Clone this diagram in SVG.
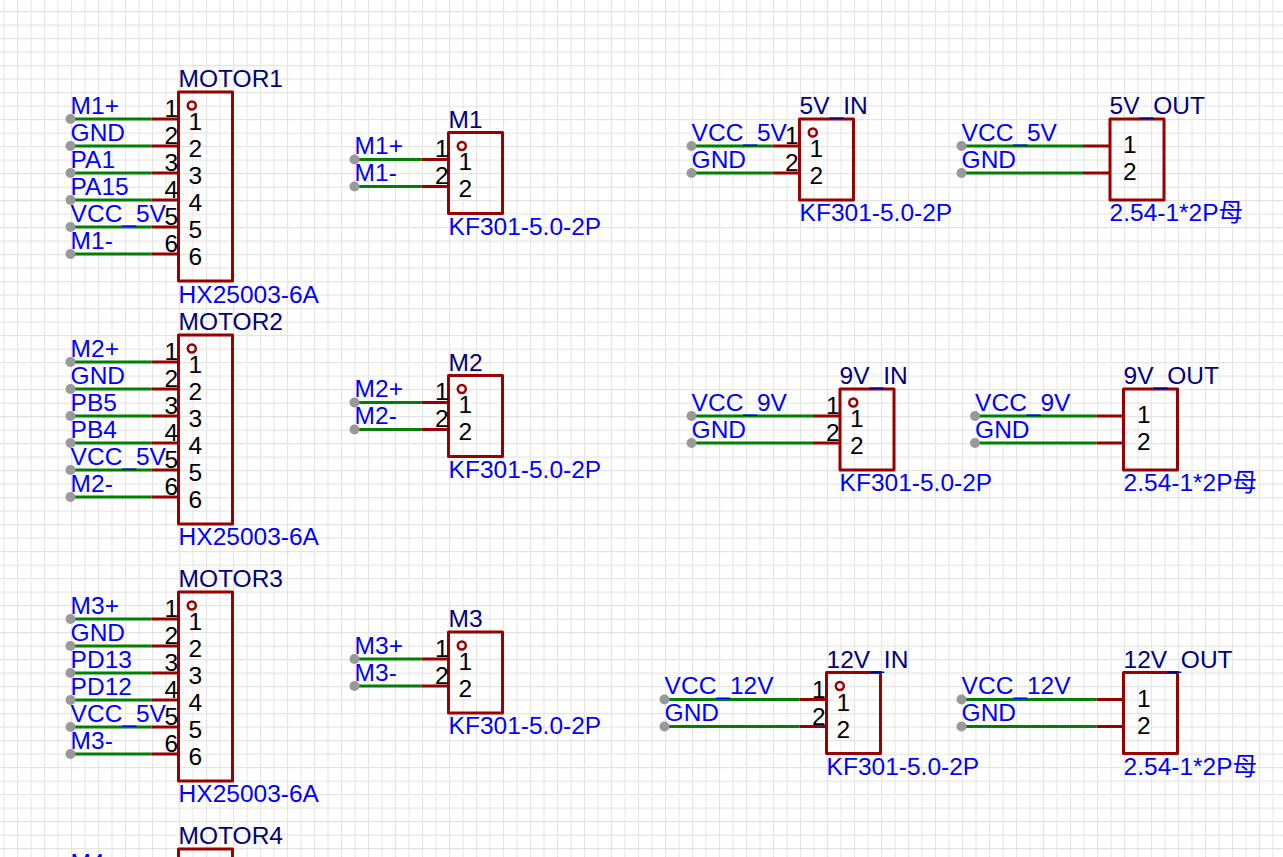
<svg xmlns="http://www.w3.org/2000/svg" width="1283" height="857" viewBox="0 0 1283 857">
<style>
text{font-family:"Liberation Sans","Noto Sans CJK SC",sans-serif;font-size:24.5px}
.n,.v{transform:translate(-.4px,-.4px)}
.n{fill:#000080}.v{fill:#0000ff}.p{fill:#000}
.b{fill:none;stroke:#990000;stroke-width:3;stroke-linejoin:round}
.c{fill:none;stroke:#990000;stroke-width:2.5}
.r{stroke:#990000;stroke-width:3}
.w{stroke:#008000;stroke-width:3}
.d{fill:#999}
</style>
<defs>
<pattern id="g" width="13.5" height="13.5" x="3.5" y="11" patternUnits="userSpaceOnUse">
<path d="M0 0V13.5M0 0H13.5" stroke="#e4e4e4" stroke-width="2.2" fill="none"/>
</pattern>
</defs>
<rect width="1283" height="857" fill="#fff"/>
<rect width="1283" height="857" fill="url(#g)"/>
<g id="connectors">
<path class="w" d="M70.5 119H151.5M70.5 146H151.5M70.5 173H151.5M70.5 200H151.5M70.5 227H151.5M70.5 254H151.5"/>
<path class="w" d="M70.5 362H151.5M70.5 389H151.5M70.5 416H151.5M70.5 443H151.5M70.5 470H151.5M70.5 497H151.5"/>
<path class="w" d="M70.5 619H151.5M70.5 646H151.5M70.5 673H151.5M70.5 700H151.5M70.5 727H151.5M70.5 754H151.5"/>
<path class="w" d="M354.5 159.500H421.500M354.500 186.500H421.500M354.500 402.500H421.500M354.500 429.500H421.500M354.500 659H421.500M354.500 686H421.500"/>
<path class="w" d="M691.500 146H772.500M691.500 173H772.500M961.500 146H1083M961.500 173H1083"/>
<path class="w" d="M691.500 416H813M691.500 443H813M975 416H1096.500M975 443H1096.500"/>
<path class="w" d="M664.500 699.500H799.500M664.500 726.500H799.500M961.500 699.500H1096.500M961.500 726.500H1096.500"/>
<g class="d">
<circle cx="70.500" cy="119" r="5"/><circle cx="70.500" cy="146" r="5"/><circle cx="70.500" cy="173" r="5"/><circle cx="70.500" cy="200" r="5"/><circle cx="70.500" cy="227" r="5"/><circle cx="70.500" cy="254" r="5"/>
<circle cx="70.500" cy="362" r="5"/><circle cx="70.500" cy="389" r="5"/><circle cx="70.500" cy="416" r="5"/><circle cx="70.500" cy="443" r="5"/><circle cx="70.500" cy="470" r="5"/><circle cx="70.500" cy="497" r="5"/>
<circle cx="70.500" cy="619" r="5"/><circle cx="70.500" cy="646" r="5"/><circle cx="70.500" cy="673" r="5"/><circle cx="70.500" cy="700" r="5"/><circle cx="70.500" cy="727" r="5"/><circle cx="70.500" cy="754" r="5"/>
<circle cx="354.500" cy="159.500" r="5"/><circle cx="354.500" cy="186.500" r="5"/><circle cx="354.500" cy="402.500" r="5"/><circle cx="354.500" cy="429.500" r="5"/><circle cx="354.500" cy="659" r="5"/><circle cx="354.500" cy="686" r="5"/>
<circle cx="691.500" cy="146" r="5"/><circle cx="691.500" cy="173" r="5"/><circle cx="961.500" cy="146" r="5"/><circle cx="961.500" cy="173" r="5"/>
<circle cx="691.500" cy="416" r="5"/><circle cx="691.500" cy="443" r="5"/><circle cx="975" cy="416" r="5"/><circle cx="975" cy="443" r="5"/>
<circle cx="664.500" cy="699.500" r="5"/><circle cx="664.500" cy="726.500" r="5"/><circle cx="961.500" cy="699.500" r="5"/><circle cx="961.500" cy="726.500" r="5"/>
</g>
<g>
<text class="v" x="71" y="114">M1+</text><text class="v" x="71" y="141">GND</text><text class="v" x="71" y="168">PA1</text><text class="v" x="71" y="195">PA15</text><text class="v" x="71" y="222">VCC_5V</text><text class="v" x="71" y="249">M1-</text>
<text class="v" x="71" y="357">M2+</text><text class="v" x="71" y="384">GND</text><text class="v" x="71" y="411">PB5</text><text class="v" x="71" y="438">PB4</text><text class="v" x="71" y="465">VCC_5V</text><text class="v" x="71" y="492">M2-</text>
<text class="v" x="71" y="614">M3+</text><text class="v" x="71" y="641">GND</text><text class="v" x="71" y="668">PD13</text><text class="v" x="71" y="695">PD12</text><text class="v" x="71" y="722">VCC_5V</text><text class="v" x="71" y="749">M3-</text>
<text class="v" x="71" y="871">M4+</text>
<text class="v" x="355" y="154">M1+</text><text class="v" x="355" y="181">M1-</text><text class="v" x="355" y="397">M2+</text><text class="v" x="355" y="424">M2-</text><text class="v" x="355" y="654">M3+</text><text class="v" x="355" y="681">M3-</text>
<text class="v" x="692" y="141">VCC_5V</text><text class="v" x="692" y="168">GND</text><text class="v" x="962" y="141">VCC_5V</text><text class="v" x="962" y="168">GND</text>
<text class="v" x="692" y="411">VCC_9V</text><text class="v" x="692" y="438">GND</text><text class="v" x="975.500" y="411">VCC_9V</text><text class="v" x="975.500" y="438">GND</text>
<text class="v" x="665" y="694">VCC_12V</text><text class="v" x="665" y="721">GND</text><text class="v" x="962" y="694">VCC_12V</text><text class="v" x="962" y="721">GND</text>
</g>
</g>
<g id="MOTOR1">
<path class="r" d="M151.500 119H178.500M151.500 146H178.500M151.500 173H178.500M151.500 200H178.500M151.500 227H178.500M151.500 254H178.500"/>
<rect class="b" x="178.500" y="92" width="54" height="189"/><circle class="c" cx="191.800" cy="105.500" r="4"/>
<text class="n" x="179" y="87">MOTOR1</text><text class="v" x="179" y="303">HX25003-6A</text>
<g class="p"><text x="164.500" y="117">1</text><text x="164.500" y="144">2</text><text x="164.500" y="171">3</text><text x="164.500" y="198">4</text><text x="164.500" y="225">5</text><text x="164.500" y="252">6</text>
<text x="188.500" y="129.500">1</text><text x="188.500" y="156.500">2</text><text x="188.500" y="183.500">3</text><text x="188.500" y="210.500">4</text><text x="188.500" y="237.500">5</text><text x="188.500" y="264.500">6</text></g>
</g>
<g id="MOTOR2">
<path class="r" d="M151.500 362H178.500M151.500 389H178.500M151.500 416H178.500M151.500 443H178.500M151.500 470H178.500M151.500 497H178.500"/>
<rect class="b" x="178.500" y="335" width="54" height="189"/><circle class="c" cx="191.800" cy="348.500" r="4"/>
<text class="n" x="179" y="330">MOTOR2</text><text class="v" x="179" y="545">HX25003-6A</text>
<g class="p"><text x="164.500" y="360">1</text><text x="164.500" y="387">2</text><text x="164.500" y="414">3</text><text x="164.500" y="441">4</text><text x="164.500" y="468">5</text><text x="164.500" y="495">6</text>
<text x="188.500" y="372.500">1</text><text x="188.500" y="399.500">2</text><text x="188.500" y="426.500">3</text><text x="188.500" y="453.500">4</text><text x="188.500" y="480.500">5</text><text x="188.500" y="507.500">6</text></g>
</g>
<g id="MOTOR3">
<path class="r" d="M151.500 619H178.500M151.500 646H178.500M151.500 673H178.500M151.500 700H178.500M151.500 727H178.500M151.500 754H178.500"/>
<rect class="b" x="178.500" y="592" width="54" height="189"/><circle class="c" cx="191.800" cy="605.500" r="4"/>
<text class="n" x="179" y="587">MOTOR3</text><text class="v" x="179" y="802">HX25003-6A</text>
<g class="p"><text x="164.500" y="617">1</text><text x="164.500" y="644">2</text><text x="164.500" y="671">3</text><text x="164.500" y="698">4</text><text x="164.500" y="725">5</text><text x="164.500" y="752">6</text>
<text x="188.500" y="629.500">1</text><text x="188.500" y="656.500">2</text><text x="188.500" y="683.500">3</text><text x="188.500" y="710.500">4</text><text x="188.500" y="737.500">5</text><text x="188.500" y="764.500">6</text></g>
</g>
<g id="MOTOR4">
<rect class="b" x="178.500" y="849" width="54" height="189"/><circle class="c" cx="191.800" cy="862.500" r="4"/>
<text class="n" x="179" y="844">MOTOR4</text>
<text class="p" x="164.500" y="874">1</text>
</g>
<g id="M1">
<path class="r" d="M421.500 159.500H448.500M421.500 186.500H448.500"/>
<rect class="b" x="448.500" y="132.500" width="54" height="81"/><circle class="c" cx="461.800" cy="146" r="4"/>
<text class="n" x="449" y="128">M1</text><text class="v" x="449" y="235">KF301-5.0-2P</text>
<g class="p"><text x="435" y="157">1</text><text x="435" y="184">2</text><text x="458.500" y="170">1</text><text x="458.500" y="197">2</text></g>
</g>
<g id="M2">
<path class="r" d="M421.500 402.500H448.500M421.500 429.500H448.500"/>
<rect class="b" x="448.500" y="375.500" width="54" height="81"/><circle class="c" cx="461.800" cy="389" r="4"/>
<text class="n" x="449" y="371">M2</text><text class="v" x="449" y="478">KF301-5.0-2P</text>
<g class="p"><text x="435" y="400">1</text><text x="435" y="427">2</text><text x="458.500" y="413">1</text><text x="458.500" y="440">2</text></g>
</g>
<g id="M3">
<path class="r" d="M421.500 659H448.500M421.500 686H448.500"/>
<rect class="b" x="448.500" y="632" width="54" height="81"/><circle class="c" cx="461.800" cy="645.500" r="4"/>
<text class="n" x="449" y="627.500">M3</text><text class="v" x="449" y="734.500">KF301-5.0-2P</text>
<g class="p"><text x="435" y="656.500">1</text><text x="435" y="683.500">2</text><text x="458.500" y="669.500">1</text><text x="458.500" y="696.500">2</text></g>
</g>
<g id="IN5V">
<path class="r" d="M772.500 146H799.500M772.500 173H799.500"/>
<rect class="b" x="799.500" y="119" width="54" height="81"/><circle class="c" cx="812.800" cy="132.500" r="4"/>
<text class="n" x="800" y="114">5V_IN</text><text class="v" x="800" y="221">KF301-5.0-2P</text>
<g class="p"><text x="785" y="144">1</text><text x="785" y="171">2</text><text x="809.500" y="157">1</text><text x="809.500" y="184">2</text></g>
</g>
<g id="OUT5V">
<path class="r" d="M1083 146H1110M1083 173H1110"/>
<rect class="b" x="1110" y="119" width="54" height="81"/>
<text class="n" x="1110" y="114">5V_OUT</text><text class="v" x="1110" y="221">2.54-1*2P母</text>
<g class="p"><text x="1123" y="153">1</text><text x="1123" y="180">2</text></g>
</g>
<g id="IN9V">
<path class="r" d="M813 416H840M813 443H840"/>
<rect class="b" x="840" y="389" width="54" height="81"/><circle class="c" cx="853.300" cy="402.500" r="4"/>
<text class="n" x="840" y="384">9V_IN</text><text class="v" x="840" y="491">KF301-5.0-2P</text>
<g class="p"><text x="826" y="414">1</text><text x="826" y="441">2</text><text x="850" y="427">1</text><text x="850" y="454">2</text></g>
</g>
<g id="OUT9V">
<path class="r" d="M1096.500 416H1123.500M1096.500 443H1123.500"/>
<rect class="b" x="1123.500" y="389" width="54" height="81"/>
<text class="n" x="1124" y="384">9V_OUT</text><text class="v" x="1124" y="491">2.54-1*2P母</text>
<g class="p"><text x="1137" y="423">1</text><text x="1137" y="450">2</text></g>
</g>
<g id="IN12V">
<path class="r" d="M799.500 699.500H826.500M799.500 726.500H826.500"/>
<rect class="b" x="826.500" y="672.500" width="54" height="81"/><circle class="c" cx="839.800" cy="686" r="4"/>
<text class="n" x="827" y="668">12V_IN</text><text class="v" x="827" y="775">KF301-5.0-2P</text>
<g class="p"><text x="812" y="697.500">1</text><text x="812" y="724.500">2</text><text x="836.500" y="710.500">1</text><text x="836.500" y="737.500">2</text></g>
</g>
<g id="OUT12V">
<path class="r" d="M1096.500 699.500H1123.500M1096.500 726.500H1123.500"/>
<rect class="b" x="1123.500" y="672.500" width="54" height="81"/>
<text class="n" x="1124" y="668">12V_OUT</text><text class="v" x="1124" y="775">2.54-1*2P母</text>
<g class="p"><text x="1137" y="707">1</text><text x="1137" y="734">2</text></g>
</g>
</svg>
